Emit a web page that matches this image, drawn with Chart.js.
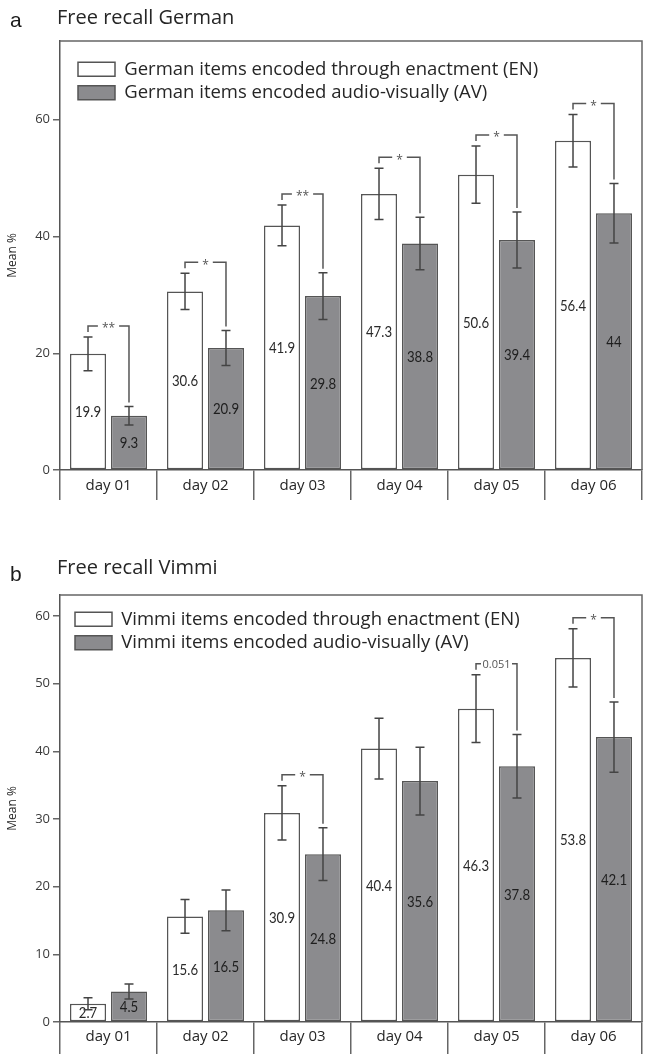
<!DOCTYPE html>
<html><head><meta charset="utf-8">
<script src="https://cdn.jsdelivr.net/npm/chart.js@4/dist/chart.umd.min.js"></script>
<style>
html,body{margin:0;padding:0;background:#fff;}
body{width:646px;height:1054px;position:relative;overflow:hidden;}
.wrap{position:absolute;left:0;width:646px;height:527px;}
canvas{display:block;}
</style></head><body>
<div class="wrap" style="top:0"><canvas id="ca" width="646" height="527"></canvas></div>
<div class="wrap" style="top:527px"><canvas id="cb" width="646" height="527"></canvas></div>
<script>
const categories = ['day 01', 'day 02', 'day 03', 'day 04', 'day 05', 'day 06'];

const germanEN = [19.9, 30.6, 41.9, 47.3, 50.6, 56.4];
const germanAV = [9.3, 20.9, 29.8, 38.8, 39.4, 44];
const germanENErr = [2.9, 3.1, 3.5, 4.4, 4.9, 4.5];
const germanAVErr = [1.6, 3.0, 4.0, 4.5, 4.8, 5.1];
const germanSig = ['**', '*', '**', '*', '*', '*'];

const vimmiEN = [2.7, 15.6, 30.9, 40.4, 46.3, 53.8];
const vimmiAV = [4.5, 16.5, 24.8, 35.6, 37.8, 42.1];
const vimmiENErr = [0.9, 2.5, 4.0, 4.5, 5.0, 4.3];
const vimmiAVErr = [1.1, 3.0, 3.9, 5.0, 4.7, 5.2];
const vimmiSig = ['', '', '*', '', '0.051', '*'];

const germanTicks = [0, 20, 40, 60];
const vimmiTicks = [0, 10, 20, 30, 40, 50, 60];

const LINE = '#555';
const GRAYFILL = '#8b8b8e';
const FONT = '"Open Sans"';
const TEXT = '#262626';

const decor = {
  id: 'decor',
  beforeDraw(chart, args, o) {
    const lg = chart.legend;
    if (lg) { lg.left = chart.chartArea.left + o.legendDX; lg.top = chart.chartArea.top + o.legendDY; }
  },
  afterDraw(chart, args, o) {
    const ctx = chart.ctx, a = chart.chartArea, ys = chart.scales.y;
    const m0 = chart.getDatasetMeta(0), m1 = chart.getDatasetMeta(1);
    const en = chart.data.datasets[0].data, av = chart.data.datasets[1].data;
    ctx.save();
    ctx.strokeStyle = '#666'; ctx.lineWidth = 1.5;
    ctx.beginPath(); ctx.moveTo(a.left, a.top); ctx.lineTo(a.right, a.top); ctx.lineTo(a.right, a.bottom); ctx.stroke();
    ctx.textAlign = 'left'; ctx.textBaseline = 'alphabetic';
    ctx.fillStyle = '#1a1a1a'; ctx.font = '21px "Liberation Sans"';
    ctx.fillText(o.letter, 10, o.letterY);
    ctx.fillStyle = TEXT; ctx.font = '20px ' + FONT;
    ctx.fillText(o.title, 57, o.titleY);
    ctx.textAlign = 'center'; ctx.textBaseline = 'middle';
    ctx.font = '15px Lato';
    [[m0, en, '#2a2a2a'], [m1, av, '#1e1e1e']].forEach(([m, vals, col]) => {
      m.data.forEach((el, i) => {
        const yMid = (el.y + el.base) / 2 + 1;
        ctx.save();
        ctx.translate(el.x, yMid); ctx.scale(0.88, 1);
        ctx.fillStyle = col;
        ctx.fillText(String(vals[i]), 0, 0);
        ctx.restore();
      });
    });
    ctx.strokeStyle = '#444'; ctx.lineWidth = 1.5;
    [[m0, en, o.enErr], [m1, av, o.avErr]].forEach(([m, vals, errs]) => {
      m.data.forEach((el, i) => {
        const t = ys.getPixelForValue(vals[i] + errs[i]);
        const b = ys.getPixelForValue(vals[i] - errs[i]);
        ctx.beginPath();
        ctx.moveTo(el.x, t); ctx.lineTo(el.x, b);
        ctx.moveTo(el.x - 4.5, t); ctx.lineTo(el.x + 4.5, t);
        ctx.moveTo(el.x - 4.5, b); ctx.lineTo(el.x + 4.5, b);
        ctx.stroke();
      });
    });
    ctx.strokeStyle = LINE; ctx.lineWidth = 1.5;
    o.sig.forEach((s, i) => {
      if (!s) return;
      const xl = m0.data[i].x, xr = m1.data[i].x;
      const yt = ys.getPixelForValue(en[i] + o.enErr[i]) - 11;
      const yr = ys.getPixelForValue(av[i] + o.avErr[i]) - 4;
      const isNum = /\d/.test(s);
      ctx.font = isNum ? '11px ' + FONT : '12px ' + FONT;
      const tw = ctx.measureText(s).width;
      const xm = (xl + xr) / 2;
      const gap = isNum ? 1.5 : 4;
      ctx.beginPath();
      ctx.moveTo(xl, yt + 6); ctx.lineTo(xl, yt); ctx.lineTo(xm - tw / 2 - gap, yt);
      ctx.moveTo(xm + tw / 2 + gap, yt); ctx.lineTo(xr, yt); ctx.lineTo(xr, yr);
      ctx.stroke();
      ctx.fillStyle = '#555';
      ctx.textAlign = 'center';
      ctx.textBaseline = 'middle';
      ctx.fillText(s, xm, isNum ? yt + 1 : yt + 3);
    });
    ctx.restore();
  }
};

function build(id, p) {
  return new Chart(document.getElementById(id), {
    type: 'bar',
    data: {
      labels: categories,
      datasets: [
        { label: p.enLabel, data: p.en, backgroundColor: '#ffffff', borderColor: LINE, borderWidth: 1.5, borderSkipped: false, categoryPercentage: 0.845, barPercentage: 0.88 },
        { label: p.avLabel, data: p.av, backgroundColor: GRAYFILL, borderColor: LINE, borderWidth: 1.5, borderSkipped: false, categoryPercentage: 0.845, barPercentage: 0.88 }
      ]
    },
    options: {
      responsive: false, animation: false, devicePixelRatio: 1,
      layout: { padding: { left: 0, right: 4, top: p.top, bottom: p.bottomPad } },
      plugins: {
        legend: { position: 'chartArea', align: 'start',
          labels: { boxWidth: 37, boxHeight: 14, padding: 5, color: TEXT, font: { family: FONT, size: 18.5 } } },
        tooltip: { enabled: false },
        title: { display: false },
        decor: { letter: p.letter, letterY: p.letterY, title: p.title, titleY: p.titleY,
          enErr: p.enErr, avErr: p.avErr, sig: p.sig, legendDX: p.legendDX, legendDY: p.legendDY }
      },
      scales: {
        x: {
          grid: { offset: true, drawOnChartArea: false, tickLength: p.tickLen, color: '#666', lineWidth: 1.5 },
          border: { display: true, color: LINE, width: 1.5 },
          ticks: { padding: p.xPad, color: TEXT, font: { family: FONT, size: 15 } },
          afterFit: s => { s.height = p.tickLen; }
        },
        y: {
          min: 0, max: p.max,
          afterBuildTicks: s => { s.ticks = p.ticks.map(v => ({ value: v })); },
          ticks: { padding: 3, color: '#3a3a3a', font: { family: FONT, size: 13 } },
          grid: { drawOnChartArea: false, tickLength: 7, color: '#666', lineWidth: 1.5 },
          border: { display: true, color: LINE, width: 1.5 },
          title: { display: true, text: 'Mean %', color: TEXT, font: { family: FONT, size: 12 }, padding: { top: 5, bottom: 0 } },
          afterFit: s => { s.width = 60; }
        }
      }
    },
    plugins: [decor]
  });
}

build('ca', {
  en: germanEN, av: germanAV, enErr: germanENErr, avErr: germanAVErr, sig: germanSig,
  enLabel: 'German items encoded through enactment (EN)', avLabel: 'German items encoded audio-visually (AV)',
  letter: 'a', letterY: 27, title: 'Free recall German', titleY: 24,
  max: 73.5, ticks: germanTicks, top: 41, bottomPad: 27, tickLen: 30, xPad: -23,
  legendDX: 13, legendDY: 14
});
build('cb', {
  en: vimmiEN, av: vimmiAV, enErr: vimmiENErr, avErr: vimmiAVErr, sig: vimmiSig,
  enLabel: 'Vimmi items encoded through enactment (EN)', avLabel: 'Vimmi items encoded audio-visually (AV)',
  letter: 'b', letterY: 54, title: 'Free recall Vimmi', titleY: 47,
  max: 63.1, ticks: vimmiTicks, top: 68, bottomPad: 0, tickLen: 32, xPad: -26,
  legendDX: 10, legendDY: 10
});
</script>
</body></html>
